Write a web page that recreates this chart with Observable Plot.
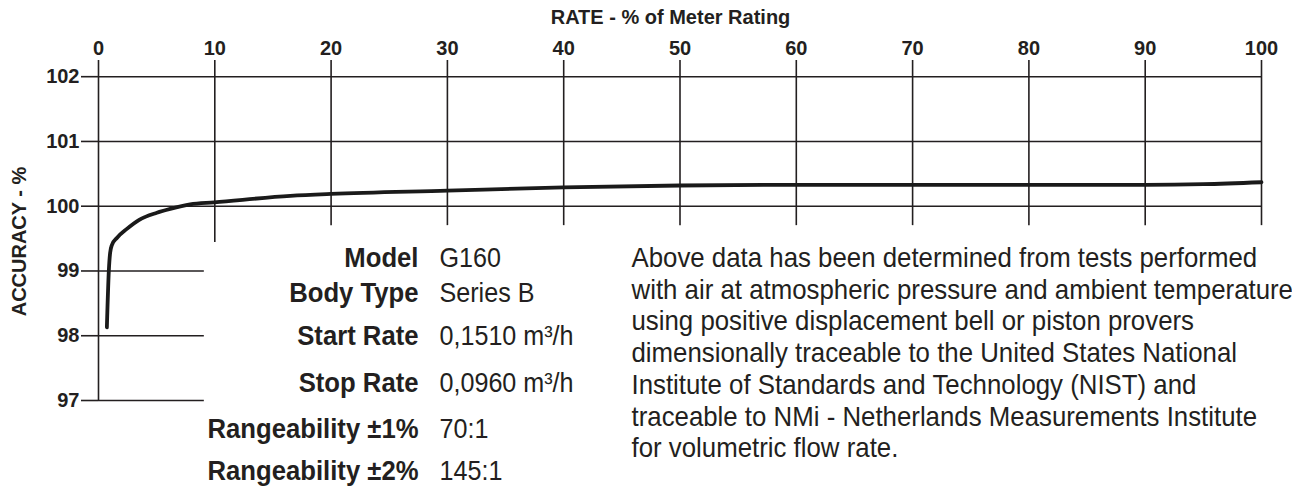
<!DOCTYPE html>
<html><head><meta charset="utf-8">
<script src="https://cdn.jsdelivr.net/npm/d3@7"></script>
<script src="https://cdn.jsdelivr.net/npm/@observablehq/plot@0.6"></script>
<style>
html,body{margin:0;padding:0;background:#fff;overflow:hidden;}
svg{display:block}
</style>
</head><body><div id="chart"></div>
<script>
// ---- data ----
const xTicks = [0, 10, 20, 30, 40, 50, 60, 70, 80, 90, 100];
const xGridBottom = [97, 99.44, 99.70, 99.70, 99.70, 99.70, 99.70, 99.70, 99.70, 99.70, 99.70];
const yTicks = [97, 98, 99, 100, 101, 102];
const yGridEnd = [9.1, 9.1, 9.1, 100, 100, 100];
const rate = [0.72, 0.89, 1.0, 1.15, 1.58, 2.44, 3.5, 5.02, 6.17, 7.88, 9.95, 16.5, 20, 30, 40, 50, 60, 70, 80, 90, 95, 100];
const accuracy = [98.13, 99.01, 99.28, 99.40, 99.51, 99.65, 99.79, 99.90, 99.96, 100.03, 100.06, 100.16, 100.19, 100.24, 100.29, 100.32, 100.33, 100.33, 100.33, 100.33, 100.34, 100.37];
const xTitle = "RATE - % of Meter Rating";
const yTitle = "ACCURACY - %";
const specLabels = ["Model", "Body Type", "Start Rate", "Stop Rate", "Rangeability ±1%", "Rangeability ±2%"];
const specValues = ["G160", "Series B", "0,1510 m³/h", "0,0960 m³/h", "70:1", "145:1"];
const noteLines = [
  "Above data has been determined from tests performed",
  "with air at atmospheric pressure and ambient temperature",
  "using positive displacement bell or piston provers",
  "dimensionally traceable to the United States National",
  "Institute of Standards and Technology (NIST) and",
  "traceable to NMi - Netherlands Measurements Institute",
  "for volumetric flow rate."
];

// ---- layout ----
const W = 1292, H = 487;
const mL = 98, mR = 31, mT = 60, mB = 87;
const yTop = 102.25;
const ink = "#231f20";
const font = "'Liberation Sans', Arial, Helvetica, sans-serif";
const specBaselines = [266.5, 301, 344.5, 391, 437, 479.5];
const noteBaseline0 = 266.5, noteStep = 31.7;

const curve = rate.map((x, i) => ({x, y: accuracy[i]}));
const vGrid = xTicks.map((x, i) => ({x, y2: xGridBottom[i]}));
const hGrid = yTicks.map((y, i) => ({y, x2: yGridEnd[i]}));

const specLabelMarks = specLabels.map((t, i) => Plot.text([t], {
  frameAnchor: "top-left", dx: 418 - mL, dy: specBaselines[i] - mT,
  textAnchor: "end", lineAnchor: "bottom", fontSize: 28, fontWeight: "bold",
  fontFamily: font, fill: ink
}));
const specValueMarks = specValues.map((t, i) => Plot.text([t], {
  frameAnchor: "top-left", dx: 439 - mL, dy: specBaselines[i] - mT,
  textAnchor: "start", lineAnchor: "bottom", fontSize: 28,
  fontFamily: font, fill: ink
}));
const noteMarks = noteLines.map((t, i) => Plot.text([t], {
  frameAnchor: "top-left", dx: 631 - mL, dy: noteBaseline0 + i * noteStep - mT,
  textAnchor: "start", lineAnchor: "bottom", fontSize: 28,
  fontFamily: font, fill: ink
}));

const plot = Plot.plot({
  width: W, height: H,
  marginLeft: mL, marginRight: mR, marginTop: mT, marginBottom: mB,
  style: {fontFamily: font, background: "#fff", color: ink},
  x: {domain: [0, 100], label: null},
  y: {domain: [97, yTop], label: null},
  marks: [
    Plot.ruleX(vGrid, {x: "x", y1: yTop, y2: "y2", stroke: ink, strokeWidth: 1.6}),
    Plot.ruleY(hGrid, {y: "y", x1: 0, x2: "x2", stroke: ink, strokeWidth: 1.6}),
    Plot.axisX(xTicks, {anchor: "top", tickSize: 0, tickPadding: 6, fontSize: 20, fontWeight: "bold", label: null, color: ink, tickFormat: d3.format("d")}),
    Plot.axisY(yTicks, {anchor: "left", tickSize: 17, tickPadding: 2, fontSize: 20, fontWeight: "bold", label: null, color: ink, strokeWidth: 1.6, tickFormat: d3.format("d")}),
    Plot.text([xTitle], {frameAnchor: "top", dx: -9.5, dy: 23.3 - mT, lineAnchor: "bottom", fontSize: 20, fontWeight: "bold", fill: ink, fontFamily: font}),
    Plot.text([yTitle], {frameAnchor: "left", dx: -79, dy: 11, rotate: -90, textAnchor: "middle", lineAnchor: "middle", fontSize: 20, fontWeight: "bold", fill: ink, fontFamily: font}),
    Plot.line(curve, {x: "x", y: "y", curve: "monotone-x", stroke: "#1a1a1a", strokeWidth: 3.8}),
    ...specLabelMarks,
    ...specValueMarks,
    ...noteMarks
  ]
});

document.getElementById("chart").appendChild(plot);

// condense the annotation texts to the reference's narrow type widths
function squeeze(strings, refString, refWidth) {
  const nodes = d3.select(plot).selectAll("text").filter(function () { return strings.includes(this.textContent); });
  let k = 0.9;
  nodes.each(function () {
    if (this.textContent === refString) {
      const w = this.getComputedTextLength();
      if (w > 0) k = refWidth / w;
    }
  });
  nodes.attr("transform", function () {
    return (this.getAttribute("transform") || "") + ` scale(${k},1)`;
  });
}
squeeze(specLabels, "Rangeability ±1%", 211);
squeeze(specValues, "Series B", 95);
squeeze(noteLines, noteLines[0], 626);
</script>
</body></html>
